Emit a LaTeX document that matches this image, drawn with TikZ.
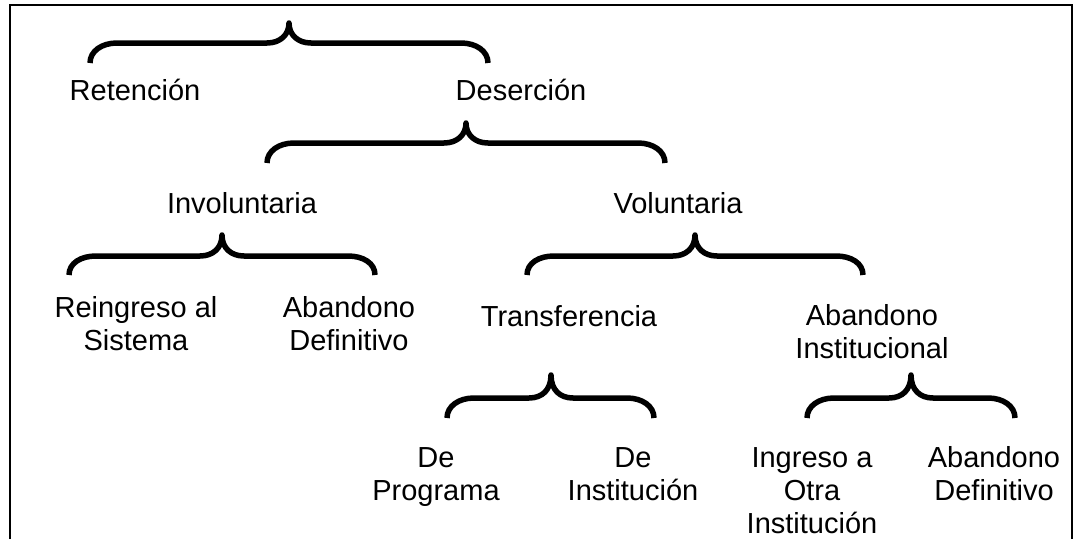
\documentclass[tikz,border=0pt]{standalone}
\usepackage{fontspec}
\setmainfont{Liberation Sans}
\begin{document}
\begin{tikzpicture}[x=1pt,y=-1pt,
  lbl/.style={inner sep=0pt, anchor=base, align=center, font=\fontsize{29}{33}\selectfont},
  bracestyle/.style={line width=5.5pt, line join=round},
  framestyle/.style={line width=2pt}]
\useasboundingbox (0,0) rectangle (1084,539);
% brace: #1 left x, #2 tip x, #3 right x, #4 tip y, #5 middle y, #6 end y
\newcommand\mybrace[6]{%
  \draw[bracestyle] (#1,#6) .. controls (#1,#6-12) and (#1+12,#5) .. (#1+27,#5) -- (#2-22,#5)
    .. controls (#2-9,#5) and (#2,#5-8) .. (#2,#4) .. controls (#2,#5-8) and (#2+9,#5) .. (#2+22,#5)
    -- (#3-27,#5) .. controls (#3-12,#5) and (#3,#6-12) .. (#3,#6);}
% frame
\coordinate (f1) at (10,539);
\coordinate (f2) at (10,5);
\coordinate (f3) at (1072,5);
\coordinate (f4) at (1072,539);
\draw[framestyle] (f1) -- (f2) -- (f3) -- (f4);
% texts (anchor = baseline of last line)
\node[lbl] (ret) at (135,100) {Retención};
\node[lbl] (des) at (521,100) {Deserción};
\node[lbl] (inv) at (242,213) {Involuntaria};
\node[lbl] (vol) at (678,213) {Voluntaria};
\node[lbl] (rei) at (136,350) {Reingreso al\\Sistema};
\node[lbl] (abd1) at (349,350) {Abandono\\Definitivo};
\node[lbl] (tra) at (569,326) {Transferencia};
\node[lbl] (abi) at (872,358) {Abandono\\Institucional};
\node[lbl] (dep) at (436,500) {De\\Programa};
\node[lbl] (dei) at (633,500) {De\\Institución};
\node[lbl] (ing) at (812,533) {Ingreso a\\Otra\\Institución};
\node[lbl] (abd2) at (994,500) {Abandono\\Definitivo};
% braces
\mybrace{90}{289}{488}{23}{43}{63}
\mybrace{267}{466}{665}{123}{143}{163}
\mybrace{69}{222}{375}{235}{256}{275}
\mybrace{527}{695}{863}{235}{256}{275}
\mybrace{447}{551}{654}{375}{398}{418}
\mybrace{807}{911}{1015}{375}{398}{418}
\end{tikzpicture}
\end{document}
